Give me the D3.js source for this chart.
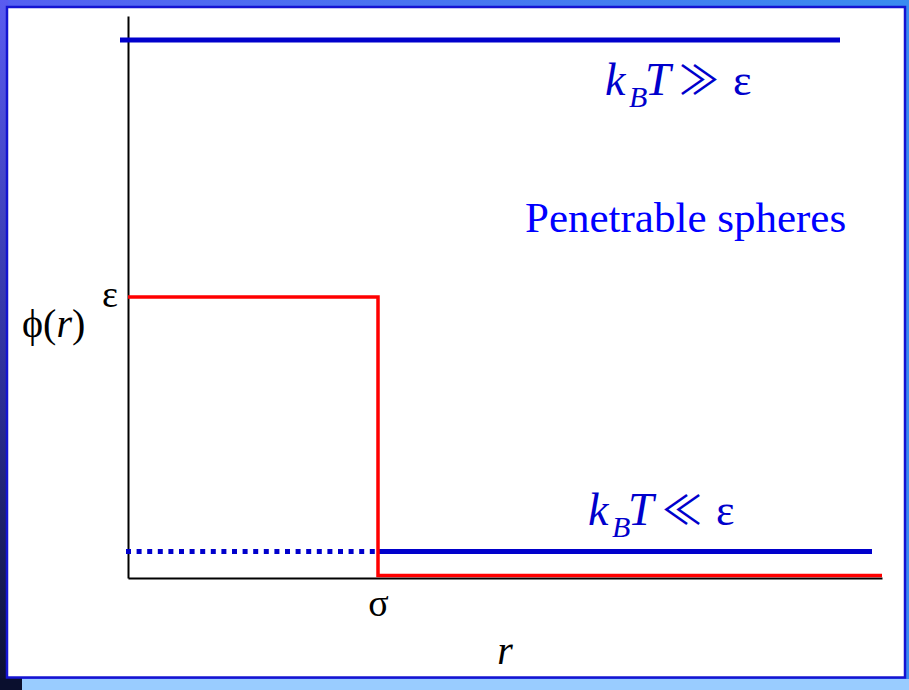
<!DOCTYPE html>
<html>
<head>
<meta charset="utf-8">
<script src="https://cdn.jsdelivr.net/npm/d3@7"></script>
<style>
  body { margin: 0; background: #ffffff; }
  #wrapper { width: 909px; height: 690px; }
  text { font-family: "Liberation Serif", "Times New Roman", serif; }
  text.rel { font-family: "Noto Sans CJK JP", "DejaVu Serif", serif; }
</style>
</head>
<body>
<div id="wrapper"></div>
<script>
// square-well potential, r in units of sigma, phi in units of epsilon
const wellR = [0, 1, 1, 3.016]
const wellPhi = [1, 1, 0.009, 0.009]

// k_B T >> eps : effectively flat (top line)
const highTR = [-0.032, 2.848]
const highTPhi = [1.915, 1.915]

// k_B T << eps : dotted inside core, solid outside
const lowTDottedR = [-0.008, 1]
const lowTSolidR = [1, 2.976]
const lowTPhi = 0.094

const yTickValues = [1]
const yTickLabels = ["ε"]
const xTickValues = [1]
const xTickLabels = ["σ"]

function drawChart() {

    // 1. dimensions
    let dimensions = {
        width: 909,
        height: 690,
        margin: { top: 16, right: 27, bottom: 112, left: 128 },
    }
    dimensions.boundedWidth = dimensions.width - dimensions.margin.left - dimensions.margin.right
    dimensions.boundedHeight = dimensions.height - dimensions.margin.top - dimensions.margin.bottom

    // 2. canvas + slide background
    const wrapper = d3.select("#wrapper")
        .append("svg")
        .attr("width", dimensions.width)
        .attr("height", dimensions.height)

    const defs = wrapper.append("defs")
    const topGrad = defs.append("linearGradient").attr("id", "topGrad")
        .attr("x1", 0).attr("x2", 1).attr("y1", 0).attr("y2", 0)
    topGrad.append("stop").attr("offset", "0%").attr("stop-color", "#5560f2")
    topGrad.append("stop").attr("offset", "100%").attr("stop-color", "#3a8cf0")
    const leftGrad = defs.append("linearGradient").attr("id", "leftGrad")
        .attr("x1", 0).attr("x2", 0).attr("y1", 0).attr("y2", 1)
    leftGrad.append("stop").attr("offset", "0%").attr("stop-color", "#5a5cf0")
    leftGrad.append("stop").attr("offset", "60%").attr("stop-color", "#2a2c90")
    leftGrad.append("stop").attr("offset", "100%").attr("stop-color", "#0a0f2e")

    wrapper.append("rect")
        .attr("width", dimensions.width).attr("height", dimensions.height)
        .attr("fill", "url(#topGrad)")
    wrapper.append("rect")
        .attr("x", 0).attr("y", 0).attr("width", 8).attr("height", dimensions.height)
        .attr("fill", "url(#leftGrad)")
    wrapper.append("rect")
        .attr("x", 0).attr("y", 678).attr("width", 22).attr("height", 12)
        .attr("fill", "#0a0f2e")
    wrapper.append("rect")
        .attr("x", 22).attr("y", 679).attr("width", dimensions.width - 22).attr("height", 11)
        .attr("fill", "#99ccff")
    wrapper.append("rect")
        .attr("x", 7).attr("y", 7).attr("width", 898).attr("height", 670.5)
        .attr("fill", "#ffffff")
        .attr("stroke", "#1414d2")
        .attr("stroke-width", 2.5)

    const bounds = wrapper.append("g")
        .attr("transform", `translate(${dimensions.margin.left}, ${dimensions.margin.top})`)

    // 3. scales
    const xScale = d3.scaleLinear()
        .domain([0, 3.016])
        .range([0, dimensions.boundedWidth])

    const yScale = d3.scaleLinear()
        .domain([0, 2])
        .range([dimensions.boundedHeight, 0])

    const lineGenerator = d3.line()
        .x(d => xScale(d[0]))
        .y(d => yScale(d[1]))

    // 4. axes
    const yAxisGenerator = d3.axisLeft(yScale)
        .tickValues(yTickValues)
        .tickFormat((d, i) => yTickLabels[i])
        .tickSize(0)
        .tickSizeOuter(0)
        .tickPadding(10)

    const yAxis = bounds.append("g")
        .attr("class", "y-axis")
        .call(yAxisGenerator)
    yAxis.select(".domain").attr("stroke", "#000").attr("stroke-width", 2)
    yAxis.selectAll("text")
        .attr("dy", "0.24em")
        .style("font-size", "38px")
        .attr("fill", "#000")

    const xAxisGenerator = d3.axisBottom(xScale)
        .tickValues(xTickValues)
        .tickFormat((d, i) => xTickLabels[i])
        .tickSize(0)
        .tickSizeOuter(0)
        .tickPadding(11)

    const xAxis = bounds.append("g")
        .attr("class", "x-axis")
        .attr("transform", `translate(0, ${dimensions.boundedHeight})`)
        .call(xAxisGenerator)
    xAxis.select(".domain").attr("stroke", "#000").attr("stroke-width", 2)
    xAxis.selectAll("text")
        .style("font-size", "38px")
        .attr("fill", "#000")

    // 5. data
    bounds.append("path")
        .attr("d", lineGenerator(highTR.map((r, i) => [r, highTPhi[i]])))
        .attr("fill", "none")
        .attr("stroke", "#0000cc")
        .attr("stroke-width", 5)

    bounds.append("path")
        .attr("d", lineGenerator(lowTDottedR.map(r => [r, lowTPhi])))
        .attr("fill", "none")
        .attr("stroke", "#0000cc")
        .attr("stroke-width", 5)
        .attr("stroke-dasharray", "5 5.6")

    bounds.append("path")
        .attr("d", lineGenerator(lowTSolidR.map(r => [r, lowTPhi])))
        .attr("fill", "none")
        .attr("stroke", "#0000cc")
        .attr("stroke-width", 5)

    bounds.append("path")
        .attr("d", lineGenerator(wellR.map((r, i) => [r, wellPhi[i]])))
        .attr("fill", "none")
        .attr("stroke", "#ff0000")
        .attr("stroke-width", 3.5)

    // 6. labels
    const axisLabel = wrapper.append("text")
        .attr("x", 22)
        .attr("y", 337)
        .attr("fill", "#000")
        .style("font-size", "40px")
    axisLabel.append("tspan").text("ϕ(")
    axisLabel.append("tspan").style("font-style", "italic").text("r")
    axisLabel.append("tspan").text(")")

    wrapper.append("text")
        .attr("x", 505)
        .attr("y", 664)
        .attr("text-anchor", "middle")
        .attr("fill", "#000")
        .style("font-size", "40px")
        .style("font-style", "italic")
        .text("r")

    function kTLabel(x0, baseline, relation) {
        const g = wrapper.append("g").attr("fill", "#0000cc")
        g.append("text").attr("x", x0).attr("y", baseline)
            .style("font-size", "46px").style("font-style", "italic").text("k")
        g.append("text").attr("x", x0 + 24).attr("y", baseline + 12)
            .style("font-size", "30px").style("font-style", "italic").text("B")
        g.append("text").attr("x", x0 + 40).attr("y", baseline)
            .style("font-size", "46px").style("font-style", "italic").text("T")
        g.append("text").attr("class", "rel")
            .attr("x", x0 + 94).attr("y", baseline - 1)
            .attr("text-anchor", "middle")
            .style("font-size", "40px").text(relation)
        g.append("text").attr("x", x0 + 128).attr("y", baseline)
            .style("font-size", "44px").text("ε")
    }
    kTLabel(605, 95, "≫")
    kTLabel(588, 525, "≪")

    wrapper.append("text")
        .attr("x", 525)
        .attr("y", 232)
        .attr("fill", "#0000ff")
        .style("font-size", "43px")
        .text("Penetrable spheres")
}
drawChart()
</script>
</body>
</html>
